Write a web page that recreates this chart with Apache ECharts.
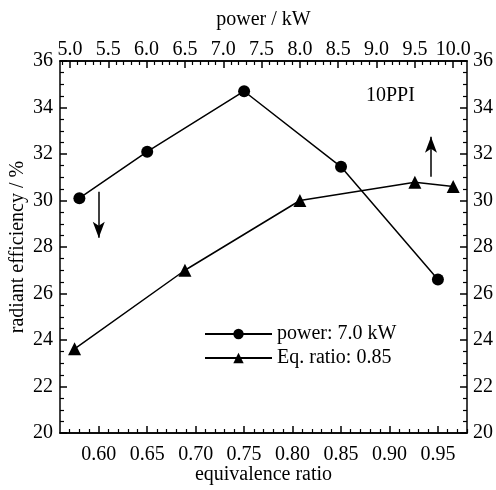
<!DOCTYPE html>
<html><head><meta charset="utf-8">
<script src="https://cdn.jsdelivr.net/npm/echarts@6/dist/echarts.min.js"></script>
<style>html,body{margin:0;padding:0;background:#fff}#c{width:496px;height:490px}</style>
</head><body><div id="c"></div>
<script>
// Data
var eqRatio = [0.58, 0.65, 0.75, 0.85, 0.95];
var effPower = [30.1, 32.1, 34.7, 31.45, 26.6];       // power fixed 7.0 kW
var power = [5.06, 6.5, 8.0, 9.5, 10.0];
var effEq = [23.62, 27.0, 30.0, 30.78, 30.6];          // eq. ratio fixed 0.85
var eqTicks = [0.60, 0.65, 0.70, 0.75, 0.80, 0.85, 0.90, 0.95];
var powerTicks = [5.0, 5.5, 6.0, 6.5, 7.0, 7.5, 8.0, 8.5, 9.0, 9.5, 10.0];
var effTicks = [20, 22, 24, 26, 28, 30, 32, 34, 36];

var eqMinor = [];
for (var i = 57; i <= 98; i++) { if (i % 5 !== 0) eqMinor.push(i / 100); }
var powMinor = [];
for (var j = 49; j <= 101; j++) { if (j % 5 !== 0) powMinor.push(j / 10); }

var FONT = 'Liberation Serif';
var black = '#000';
var lineAx = { show: true, lineStyle: { color: black, width: 1.5 } };

var chart = echarts.init(document.getElementById('c'));
chart.setOption({
  animation: false,
  textStyle: { fontFamily: FONT, color: black },
  grid: { left: 60, top: 61, right: 29, bottom: 57, containLabel: false, outerBoundsMode: 'none' },
  legend: {
    orient: 'vertical', left: 199, top: 319,
    itemWidth: 67, itemHeight: 13, itemGap: 4,
    textStyle: { fontFamily: FONT, fontSize: 20, color: black, lineHeight: 20 },
    data: ['power: 7.0 kW', 'Eq. ratio: 0.85']
  },
  graphic: [{
    type: 'text', left: 366, top: 86,
    style: { text: '10PPI', font: '20px "Liberation Serif"', fill: black }
  }],
  xAxis: [
    { type: 'value', position: 'bottom', min: 0.56, max: 0.98,
      name: 'equivalence ratio', nameLocation: 'middle', nameGap: 32, nameMoveOverlap: false,
      nameTextStyle: { fontFamily: FONT, fontSize: 20, color: black },
      axisLine: lineAx, splitLine: { show: false },
      axisTick: { inside: true, length: 7, customValues: eqTicks, lineStyle: { color: black, width: 1.5 } },
      axisLabel: { customValues: eqTicks, margin: 12, fontFamily: FONT, fontSize: 20, color: black,
        formatter: function (v) { return v.toFixed(2); } } },
    { type: 'value', position: 'bottom', min: 0.56, max: 0.98,
      axisLine: lineAx, splitLine: { show: false },
      axisTick: { inside: true, length: 4, customValues: eqMinor, lineStyle: { color: black, width: 1.2 } },
      axisLabel: { show: false } },
    { type: 'value', position: 'top', min: 4.87, max: 10.18,
      name: 'power / kW', nameLocation: 'middle', nameGap: 31, nameMoveOverlap: false,
      nameTextStyle: { fontFamily: FONT, fontSize: 20, color: black },
      axisLine: lineAx, splitLine: { show: false },
      axisTick: { inside: true, length: 7, customValues: powerTicks, lineStyle: { color: black, width: 1.5 } },
      axisLabel: { customValues: powerTicks, margin: 1, fontFamily: FONT, fontSize: 20, color: black,
        formatter: function (v) { return v.toFixed(1); } } },
    { type: 'value', position: 'top', min: 4.87, max: 10.18,
      axisLine: lineAx, splitLine: { show: false },
      axisTick: { inside: true, length: 4, customValues: powMinor, lineStyle: { color: black, width: 1.2 } },
      axisLabel: { show: false } }
  ],
  yAxis: [
    { type: 'value', position: 'left', min: 20, max: 36, interval: 2,
      name: 'radiant efficiency / %', nameLocation: 'middle', nameGap: 32, nameMoveOverlap: false,
      nameTextStyle: { fontFamily: FONT, fontSize: 20, color: black },
      axisLine: lineAx, splitLine: { show: false },
      axisTick: { inside: true, length: 7, lineStyle: { color: black, width: 1.5 } },
      minorTick: { show: true, splitNumber: 4, length: 4, lineStyle: { color: black, width: 1.2 } },
      minorSplitLine: { show: false },
      axisLabel: { margin: 7, fontFamily: FONT, fontSize: 20, color: black } },
    { type: 'value', position: 'right', min: 20, max: 36, interval: 2,
      axisLine: lineAx, splitLine: { show: false },
      axisTick: { inside: true, length: 7, lineStyle: { color: black, width: 1.5 } },
      minorTick: { show: true, splitNumber: 4, length: 4, lineStyle: { color: black, width: 1.2 } },
      minorSplitLine: { show: false },
      axisLabel: { margin: 6, fontFamily: FONT, fontSize: 20, color: black } }
  ],
  series: [
    { name: 'power: 7.0 kW', type: 'line', xAxisIndex: 0, yAxisIndex: 0,
      data: eqRatio.map(function (x, k) { return [x, effPower[k]]; }),
      symbol: 'circle', symbolSize: 12, showAllSymbol: true,
      lineStyle: { color: black, width: 1.5 }, itemStyle: { color: black },
      markLine: { silent: true, symbol: ['none', 'arrow'], symbolSize: [9, 16], label: { show: false },
        lineStyle: { color: black, width: 1.5, type: 'solid' },
        data: [[{ coord: [0.60, 30.38] }, { coord: [0.60, 28.4] }]] } },
    { name: 'Eq. ratio: 0.85', type: 'line', xAxisIndex: 2, yAxisIndex: 0,
      data: power.map(function (x, k) { return [x, effEq[k]]; }),
      symbol: 'triangle', symbolSize: 13, showAllSymbol: true,
      lineStyle: { color: black, width: 1.5 }, itemStyle: { color: black },
      markLine: { silent: true, symbol: ['none', 'arrow'], symbolSize: [9, 16], label: { show: false },
        lineStyle: { color: black, width: 1.5, type: 'solid' },
        data: [[{ coord: [9.71, 31.02] }, { coord: [9.71, 32.74] }]] } }
  ]
});
</script></body></html>
